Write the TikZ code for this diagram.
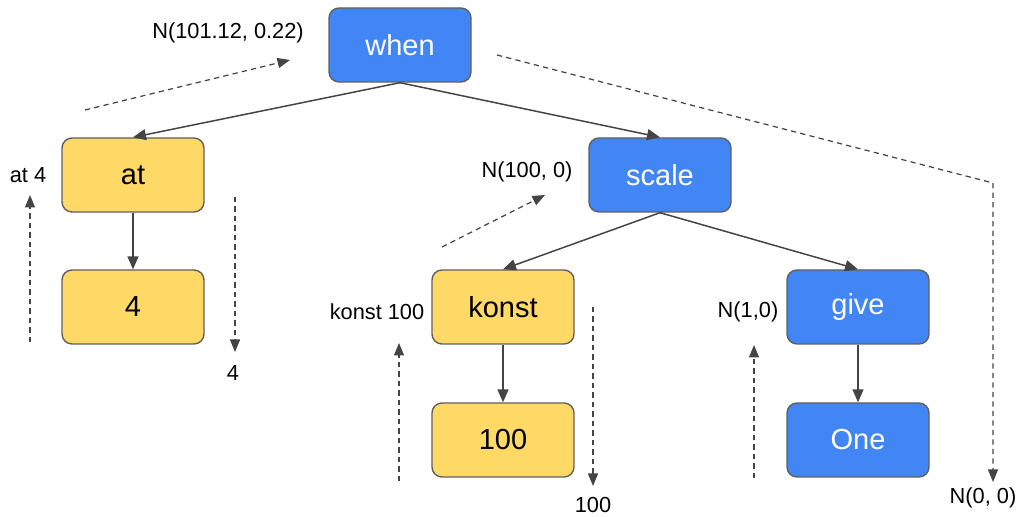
\documentclass[tikz,border=0pt]{standalone}
\usepackage{fontspec}
\setmainfont{Liberation Sans}
\usetikzlibrary{arrows.meta, positioning}

\definecolor{gblue}{RGB}{66,133,244}
\definecolor{gyellow}{RGB}{255,217,102}
\definecolor{edgegray}{RGB}{68,68,68}

\tikzset{
    box/.style={draw=edgegray!85, line width=0.8pt, rounded corners=0.2cm,
        minimum width=2.84cm, minimum height=1.48cm,
        font=\fontsize{16.5}{18}\selectfont},
    bluebox/.style={box, fill=gblue, text=white},
    yellowbox/.style={box, fill=gyellow, text=black},
    edge/.style={draw=edgegray, line width=0.85pt,
        -{Triangle[length=0.26cm, width=0.22cm]}},
    flow/.style={draw=edgegray, line width=0.7pt, dash pattern=on 3pt off 2.4pt,
        -{Triangle[length=0.25cm, width=0.2cm]}},
    note/.style={font=\fontsize{12.4}{14}\selectfont, inner sep=0pt}
}

\begin{document}
\begin{tikzpicture}
        \useasboundingbox (0, 0) rectangle (20.44, 10.34);

        % the tree
        \node[bluebox] (when) at (8.00, 9.44) {when};
        \node[yellowbox] (at) at (2.66, 6.84) {at};
        \node[yellowbox] (four) at (2.66, 4.20) {4};
        \node[bluebox] (scale) at (13.20, 6.84) {scale};
        \node[yellowbox] (konst) at (10.06, 4.20) {konst};
        \node[yellowbox] (hundred) at (10.06, 1.54) {100};
        \node[bluebox] (give) at (17.16, 4.20) {give};
        \node[bluebox] (one) at (17.16, 1.54) {One};

        \foreach \p/\c in {when/at, when/scale, at/four, scale/konst, scale/give, konst/hundred, give/one} {
            \draw[edge] (\p.south) -- (\c.north);
        }

        % values passed along
        \coordinate (w0) at (1.70, 8.14);
        \coordinate (w1) at (5.80, 9.14);
        \coordinate (r0) at (9.94, 9.24);
        \coordinate (rk) at (19.86, 6.68);
        \coordinate (r1) at (19.86, 0.70);
        \coordinate (a0) at (0.60, 3.50);
        \coordinate (a1) at (0.60, 6.44);
        \coordinate (f0) at (4.70, 6.40);
        \coordinate (f1) at (4.70, 3.30);
        \coordinate (s0) at (8.84, 5.40);
        \coordinate (s1) at (10.90, 6.44);
        \coordinate (k0) at (7.98, 0.72);
        \coordinate (k1) at (7.98, 3.48);
        \coordinate (h0) at (11.86, 4.20);
        \coordinate (h1) at (11.86, 0.62);
        \coordinate (g0) at (15.08, 0.78);
        \coordinate (g1) at (15.08, 3.44);

        \foreach \s/\t in {w0/w1, a0/a1, f0/f1, s0/s1, k0/k1, h0/h1, g0/g1} {
            \draw[flow] (\s) -- (\t);
        }
        \draw[flow] (r0) -- (rk) -- (r1);

        \node[note] (nwhen) at (4.56, 9.68) {N(101.12, 0.22)};
        \node[note] (nroot) at (19.66, 0.38) {N(0, 0)};
        \node[note] (nat) at (0.56, 6.84) {at 4};
        \node[note] (nfour) at (4.66, 2.88) {4};
        \node[note] (nscale) at (10.54, 6.90) {N(100, 0)};
        \node[note] (nkonst) at (7.54, 4.10) {konst 100};
        \node[note] (nhundred) at (11.86, 0.24) {100};
        \node[note] (ngive) at (14.96, 4.10) {N(1,0)};
    \end{tikzpicture}
\end{document}
